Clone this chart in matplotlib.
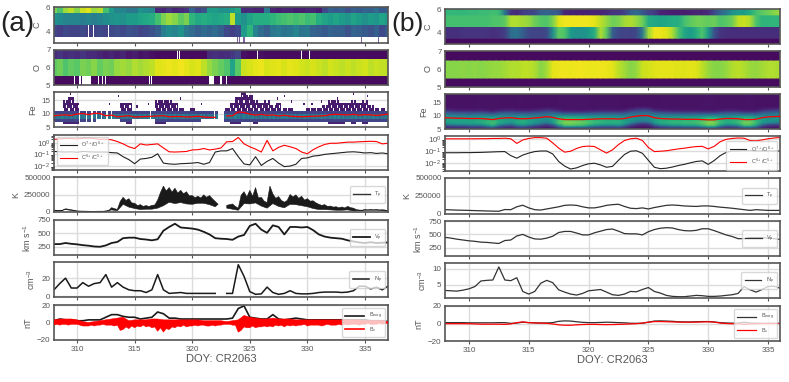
import numpy as np
import matplotlib
matplotlib.use('Agg')
import matplotlib.pyplot as plt

plt.rcParams['font.family'] = ['Liberation Sans', 'DejaVu Sans']
plt.rcParams['mathtext.fontset'] = 'custom'
plt.rcParams['mathtext.rm'] = 'Liberation Sans'
plt.rcParams['mathtext.default'] = 'regular'

nan = np.nan

# ---- panel (a): half-day samples, DOY 308 to 337 (59 values) ----
doy_a = np.arange(308, 337.5, 0.5)
# quarter-day samples for the two noisiest edges (117 values)
doy_q = np.arange(308, 337.25, 0.25)

C6_a = [.80,.72,.85,.90,.82,.92,.95,.85,.88,.70, .55,.45,.45,.40,.40,.50,.48,.45,.12,.10,
        .15,.10,.12,.15,.30,.20,.25,.55,.55,.50, .50,.55,.60,.12,.12,.10,.10,.40,.10,.08,
        .10,.10,.08,.08,.10,.10,.08,.22,.30,.28, .30,.25,.30,.28,.32,.30,.35,.28,.30]
C5_a = [.50,.48,.45,.45,.45,.42,.45,.42,.45,.48, .50,.52,.50,.55,.55,.58,.60,.62,.70,.80,
        .85,.82,.75,.80,.65,.60,.62,.60,.58,.60, .62,.90,.55,.50,.58,.62,.62,.62,.65,.68,
        .70,.72,.70,.72,.68,.70,.62,.58,.55,.58, .55,.52,.58,.55,.50,.55,.52,.58,.55]
C4_a = [.20,.18,.22,.20,.20,.22,.18,.20,.22,.20, .22,.24,.22,.25,.24,.20,.22,.25,.30,.42,
        .48,.45,.50,.40,.35,.30,.35,.32,.35,.30, .22,.18,.22,.55,.65,.45,.35,.30,.40,.42,
        .38,.40,.45,.38,.40,.32,.30,.28,.32,.30, .30,.25,.32,.30,.28,.25,.30,.22,.28]
C3_a = [nan] * 59
C4_gaps_a = [311.0, 311.4, 312.7]
C3_marks_a = [323.9, 324.1, 324.5, 334.7, 336.2]

O7_a = [.12,.15,.12,.14,.12,.15,.12,.12,.10,.08, .10,.08,.10,.06,.08,.05,.06,.04,.03,.03,
        .03,.03,.03,.03,.03,.03,.03,.12,.14,.12, .13,.16,.20,.04,.03,.03,.04,.03,.03,.03,
        .03,.03,.03,.03,.03,.03,.03,.03,.03,.03, .03,.03,.03,.03,.03,.03,.03,.03,.03]
O6_a = [.75,.78,.72,.76,.74,.80,.78,.82,.76,.80, .78,.84,.86,.84,.88,.86,.88,.90,.95,.96,
        .97,.96,.98,.96,.94,.95,.90,.84,.80,.76, .72,.58,.74,.92,.94,.96,.97,.94,.95,.96,
        .94,.96,.95,.93,.92,.94,.92,.90,.93,.92, .90,.92,.90,.92,.93,.90,.92,.91,.90]
O5_a = [.03] * 59
O7_gaps_a = [318.7, 318.9, 325.7, 329.5, 330.2]
O5_gaps_a = [309.8, 310.2, 310.3, 310.5, 310.6, 310.7, 310.8, 310.9, 311.0, 311.1, 311.2, 311.9, 312.2,
             312.5, 316.3, 316.5, 321.5, 321.6, 321.7, 321.8, 322.5, 323.0]

Fe_top_a = [11,11,15,16,14,11,11,11,11,11, 11,11,14,14,11,11,11,11,15,15,
            15,14,12,11,12,11,11,11,11,nan, 12,14,16,18,17,15,14,15,13,14,
            12,12,11,11,12,12,12,13,15,15, 14,14,15,14,15,13,12,12,11]
Fe_low_a = [7,7,6,6,6,7,7,7,8,8, 8,8,7,6,8,8,8,8,6,6,
            7,7,7,7,7,7,8,8,8,nan, 7,6,6,7,7,6,7,7,7,7,
            7,7,7,7,7,7,7,7,6,6, 6,7,6,7,6,7,7,7,7]
Fe_specks_a = [(309.4, 17), (312.8, 13), (313.6, 16), (315.2, 12), (316.2, 13), (319.0, 15), (320.8, 13),
               (324.9, 13), (326.2, 13), (327.4, 15), (328.6, 14), (329.7, 13), (331.2, 14), (331.8, 13),
               (330.4, 13), (335.2, 16), (334.0, 17), (332.6, 15), (328.0, 16)]
Fe_gaps_a = [310.2, 310.8, 311.3, 311.7, 312.1, 312.6, 313.0, 316.4, 321.9]
Fe_mean_a = [9.2,9.4,9.5,9.3,9.8,10.0,9.6,10.1,10.0,9.2, 9.4,8.8,9.0,9.2,8.7,8.8,8.9,9.0,9.1,9.2,
             8.8,8.9,8.9,8.7,8.8,9.0,8.7,8.6,8.6,nan, 9.1,9.2,10.6,10.4,9.8,9.4,9.7,9.3,9.5,9.1,
             9.4,9.0,8.9,8.8,8.9,9.0,9.1,9.2,9.6,9.7, 9.6,9.5,9.7,9.4,9.6,9.5,9.3,9.5,9.8]

ratio_c_a = [.28,.33,.36,.35,.32,.38,.40,.36,.28,.30, .25,.10,-.10,-.35,-.50,-.10,-.20,-.15,-.10,-.45,
             -.78,-.80,-.78,-.75,-.62,-.60,-.50,-.62,-.55,-.45, .08,.10,.45,-.10,-.35,-.55,-.80,.20,-.70,-.40,
             -.22,-.35,-.50,-.80,-.95,-.60,-.35,-.15,-.05,-.05, .00,.05,.05,.08,.10,.12,.10,-.10,-.05]
ratio_o_a = [-.75,-.78,-.80,-.78,-.82,-.75,-.78,-.80,-.80,-.80, -.85,-.88,-1.20,-1.45,-1.80,-1.40,-1.35,-1.25,-.95,-1.75,
             -1.82,-1.85,-1.80,-1.78,-1.75,-1.70,-1.85,-1.70,-.80,-.70, -.70,-.50,-1.20,-1.82,-1.90,-1.20,-1.95,-1.60,-1.35,-1.75,
             -2.05,-2.00,-1.85,-1.35,-1.30,-1.15,-1.10,-1.00,-.95,-.90, -.85,-.80,-.78,-.82,-.88,-.85,-.92,-.88,-.95]

# upper edge of the proton temperature band, thousand K
T_hi_q = [28,24,22,26, 46,40,32,24, 16,14,13,12, 11,10,10,11, 12,11,16,20,
          62,48,36,150, 210,165,190,130, 125,92,105,80, 92,78,95,100, 170,280,370,300,
          350,285,340,270, 310,260,290,230, 235,205,225,200, 245,210,235,190, 150,110,nan,nan,
          95,105,115,80, 55,240,290,215, 310,225,350,200, 210,155,135,370, 260,195,220,165,
          140,165,250,215, 245,195,225,170, 190,155,160,130, 110,95,105,80, 85,70,75,60,
          72,58,80,62, 55,35,28,25, 38,30,38,32, 38,30,32,28, 18]
T_lo_a = [18,14,35,22,9,8,6,6,7,8, 30,18,110,70,50,35,40,40,55,90,
          140,120,135,115,110,125,125,105,75,nan, 55,40,25,120,115,130,85,55,120,80,
          60,110,105,90,75,50,35,35,30,25, 25,30,15,18,25,25,25,20,10]
V_a = [300,300,320,305,295,280,270,255,250,275, 320,340,410,420,420,395,385,370,390,550,
       620,680,610,600,590,570,530,480,410,400, 395,380,440,470,640,680,570,510,650,620,
       480,620,620,610,620,560,480,440,420,410, 400,370,350,330,320,335,320,325,330]
N_a = [7,14,20,9,9,15,11,14,15,24, 10,15,10,7,6,6,4,7,24,7,
       3,3.5,4,3,3,3,3,3,3,nan, 3,3,35,22,5,2,2.5,10,4,2,
       3,6,3,2.5,2.5,3,4,4.5,4.5,4.5, 4,4.5,6,11,11,8,10,7,11]
B_a = [2,4,3,3,2,2,3,3,3,6, 9,9,7,6,6,4,5,6,12,10,
       5,5,4,4,4,4,4,4,4,4, 4,5,16,19,6,5,4,4,9,4,
       3,4,5,4,3,3,3,3,3,3, 3,3,3,3,3,2,2,2,1]
Bx_hi_a = [3,4,4,4,3,1,0,1,2,3, 4,5,6,2,3,3,3,4,4,3,
           3,3,3,3,3,3,2,2,2,2, 1,2,3,8,6,5,4,4,5,4,
           4,4,3,3,3,3,3,3,3,3, 3,3,3,3,2,2,2,2,1]
Bx_lo_q = [-3,-2,-3,-2, -2,-3,-2,-2, -2,-3,-4,-4, -4,-3,-4,-3, -3,-2,-3,-3,
           -3,-4,-3,-9, -8,-5,-7,-4, -6,-4,-5,-3, -5,-4,-6,-5, -10,-6,-11,-7,
           -8,-5,-6,-4, -5,-3,-5,-4, -4,-3,-4,-3, -3,-4,-4,-3, -4,-3,-3,-2,
           -2,-2,-3,-3, -11,-9,-5,-6, -6,-4,-6,-5, -5,-4,-5,-4, -5,-3,-4,-3,
           -5,-3,-4,-3, -4,-3,-3,-2, -4,-3,-3,-3, -3,-4,-3,-2, -3,-3,-3,-2,
           -3,-2,-3,-2, -2,-2,-3,-2, -2,-1,-2,-2, -2,-1,-2,-1, -1]

# ---- panel (b): half-day samples, DOY 308 to 336 (57 values) ----
doy_b = np.arange(308, 336.5, 0.5)

C6_b = [.66,.66,.66,.66,.67,.67,.68,.68,.70,.68, .40,.15,.12,.18,.20,.22,.30,.32,.30,.28,
        .10,.10,.09,.09,.10,.10,.10,.12,.15,.15, .20,.30,.35,.28,.20,.18,.10,.09,.08,.08,
        .08,.09,.10,.10,.12,.22,.32,.40,.50,.55, .55,.62,.70,.75,.78,.82,.85]
C5_b = [.70,.70,.70,.70,.70,.70,.70,.70,.72,.72, .75,.88,.88,.86,.84,.78,.74,.72,.80,.95,
        .98,.98,.98,.98,.98,.96,.90,.84,.78,.80, .86,.88,.84,.78,.62,.60,.58,.60,.62,.62,
        .70,.75,.78,.78,.76,.78,.72,.74,.78,.90, .92,.88,.72,.65,.65,.66,.65]
C4_b = [.14,.14,.14,.15,.15,.15,.15,.15,.14,.15, .18,.35,.38,.30,.22,.20,.20,.22,.48,.75,
        .72,.55,.50,.50,.55,.62,.88,.75,.30,.22, .20,.20,.22,.40,.85,.97,.97,.95,.88,.72,
        .60,.55,.62,.72,.55,.25,.15,.14,.13,.13, .13,.13,.13,.13,.13,.13,.13]
C3_b = [.03] * 57

O7_b = [.03] * 57
O6_b = [.82,.82,.82,.83,.82,.83,.82,.83,.84,.84, .86,.88,.88,.90,.90,.88,.82,.86,.96,.97,
        .98,.97,.98,.98,.97,.97,.98,.97,.96,.90, .86,.82,.84,.92,.93,.95,.96,.96,.96,.95,
        .95,.96,.95,.90,.85,.82,.82,.84,.88,.90, .88,.85,.84,.86,.88,.88,.87]
O5_b = [.03] * 57

Fe_mean_b = [9.2,9.1,9.0,9.0,8.9,8.9,8.9,8.7,8.5,8.9, 9.1,9.2,8.9,8.8,8.9,9.1,9.3,9.6,9.3,8.8,
             8.5,8.5,8.5,8.5,8.6,8.7,8.8,8.8,8.8,8.7, 8.9,9.4,9.8,10.0,9.9,9.2,8.9,8.8,8.7,8.7,
             8.6,8.6,8.6,8.5,8.4,8.4,8.7,8.9,8.9,8.8, 8.5,8.5,8.6,9.2,9.5,9.6,9.7]
Fe_peak_b = [.56,.56,.56,.56,.56,.58,.60,.64,.68,.60, .56,.52,.58,.62,.56,.52,.48,.46,.54,.70,
             .78,.78,.76,.74,.70,.66,.64,.62,.62,.62, .56,.50,.46,.44,.46,.54,.60,.62,.64,.64,
             .66,.66,.68,.72,.80,.78,.66,.60,.62,.66, .76,.76,.66,.54,.50,.50,.50]
Fe_offset = [-4, -3, -2, -1, 0, 1, 2, 3, 4]
Fe_shape = [.05, .30, .90, 1.0, .92, .75, .45, .14, .03]

ratio_c_b = [.05,.05,.05,.05,.05,.05,.06,.06,.08,.08, .10,.05,-.35,-.05,.08,.15,.15,.10,-.30,-.75,
             -1.10,-1.02,-.78,-.62,-.58,-.62,-.90,-1.18,-.90,-.45, -.10,.05,.10,-.10,-.70,-1.05,-1.02,-.98,-.90,-.82,
             -.76,-.68,-.62,-.60,-.82,-.60,-.20,.00,.08,.12, .10,-.10,-.12,-.05,.05,.12,.16]
ratio_o_b = [-1.15,-1.15,-1.15,-1.14,-1.14,-1.13,-1.12,-1.10,-1.08,-1.06, -1.05,-1.40,-1.62,-1.35,-1.18,-1.05,-1.00,-1.00,-1.25,-1.90,
             -2.30,-2.55,-2.45,-2.25,-2.10,-2.05,-2.20,-2.40,-2.32,-1.80, -1.30,-1.02,-.98,-1.20,-1.80,-2.40,-2.52,-2.48,-2.38,-2.25,
             -2.15,-2.02,-1.90,-1.85,-2.15,-1.82,-1.40,-1.12,-1.00,-1.00, -.98,-.98,-1.00,-1.00,-1.00,-1.00,-1.00]

T_b = [60,57,54,52,50,47,45,42,40,38, 62,60,100,122,85,60,55,70,85,100,
       120,125,120,100,85,85,100,120,130,135, 105,80,75,85,70,90,105,120,125,120,
       112,108,105,112,112,105,95,88,80,70, 60,50,60,55,50,50,50]
V_b = [445,430,410,395,380,370,355,350,340,330, 385,395,470,500,450,415,410,430,465,535,
       555,555,525,490,490,530,560,590,600,560, 515,510,510,490,550,590,615,625,620,590,
       570,565,575,605,605,570,530,490,460,420, 420,440,440,440,430,420,405]
N_b = [3.3,3.2,3.1,3.4,3.8,4.5,6.2,6.4,6.5,10.5, 6.5,6.3,7.2,3.0,2.2,3.0,5.5,6.4,5.7,3.5,
       2.8,2.2,1.9,2.4,3.2,3.4,3.6,2.8,2.0,1.8, 2.2,3.0,2.9,3.6,4.2,3.0,2.5,1.8,1.5,1.4,
       1.4,1.6,1.8,1.7,1.5,1.5,1.6,1.8,2.0,2.4, 4.5,3.5,2.8,3.6,4.5,4.6,4.0]
B_b = [1,1,1,1,.8,.8,.8,.8,.8,1, 1,.2,.5,1.5,1,.8,.6,.6,1,2.5,
       3,2.8,2,1.3,1,1,1.2,1.5,1.3,1, .8,.3,.2,.3,1.5,2.8,3,2.8,2.5,2,
       1.8,1.8,2,2.2,2.2,1.8,1,.6,.4,.4, 1.5,.5,.3,.2,.2,.2,.2]
Bx_b = [-.2,-.2,-.2,-.2,-.3,-.5,-.8,-.8,-.8,-.8, -1,-.5,1,1.8,1,.6,.4,.2,-.5,-1.5,
        -2,-2,-1.5,-1.2,-1,-1,-1.2,-1.3,-1.2,-1, -.8,-.5,-.2,.5,1.5,2.2,2.2,2,1.8,1.6,
        1.5,1.5,1.6,1.8,2,1.6,.5,0,-.3,-.2, -1,-.4,-.2,-.1,-.1,0,0]

GREY = '#555555'
FIG_W, FIG_H = 789, 382


def make_axes(x0, x1, y0, y1):
    ax = plt.gcf().add_axes([x0 / FIG_W, 1 - y1 / FIG_H, (x1 - x0) / FIG_W, (y1 - y0) / FIG_H])
    ax.set_axisbelow(True)
    ax.grid(True, color='#dcdcdc', lw=1.0)
    for s in ax.spines.values():
        s.set_color(GREY)
        s.set_linewidth(1.2)
    ax.tick_params(axis='both', labelsize=5.8, labelcolor=GREY, color=GREY, length=2.5, width=0.8, pad=2)
    ax.tick_params(axis='y', length=0, pad=2.5)
    return ax


def strip(ax, days, rows, edges, gaps=None, smooth=False):
    # rows go from the lowest bin to the top one
    if smooth:
        y = np.repeat(edges, 2)[1:-1]
        z = np.repeat(np.array(rows, dtype=float), 2, axis=0)
        ax.pcolormesh(days, y, z, cmap='viridis', vmin=0, vmax=1, shading='gouraud', zorder=2)
    else:
        z = np.repeat(np.array(rows, dtype=float), 5, axis=1)
        x = np.linspace(days[0] - 0.25, days[-1] + 0.25, z.shape[1] + 1)
        if gaps:
            for row, d_list in gaps.items():
                for d in d_list:
                    z[row, np.searchsorted(x, d) - 1] = nan
        ax.pcolormesh(x, edges, z, cmap='viridis', vmin=0, vmax=1, zorder=2)
    ax.grid(False)


def set_panel(ax, xlim, ylim, yticks, ylabel, labelpad=3):
    ax.set_xlim(xlim)
    ax.set_ylim(ylim)
    ax.set_xticks([310, 315, 320, 325, 330, 335])
    ax.set_yticks(yticks)
    ax.set_ylabel(ylabel, fontsize=6.5, color=GREY, labelpad=labelpad)
    ax.tick_params(axis='x', labelbottom=False)


def small_legend(ax, loc='center right', size=4, anchor=None, hl=3.0):
    lg = ax.legend(loc=loc, fontsize=size, frameon=True, framealpha=0.75, edgecolor='#cccccc',
                   borderpad=0.6, handlelength=hl, labelspacing=0.6, bbox_to_anchor=anchor,
                   borderaxespad=0.5)
    for t in lg.get_texts():
        t.set_color(GREY)
    lg.set_zorder(20)


def band(ax, x_top, top, x_bot, bot, color, gap=None, zorder=2):
    # filled range between an upper and a lower edge, split at a data gap
    x_top, top = np.array(x_top), np.array(top, dtype=float)
    x_bot, bot = np.array(x_bot), np.array(bot, dtype=float)
    if gap is None:
        parts = [(np.ones_like(x_top, bool), np.ones_like(x_bot, bool))]
    else:
        parts = [(x_top < gap, x_bot < gap), (x_top > gap, x_bot > gap)]
    for m_top, m_bot in parts:
        m_top = m_top & ~np.isnan(top)
        m_bot = m_bot & ~np.isnan(bot)
        ax.fill(np.r_[x_top[m_top], x_bot[m_bot][::-1]], np.r_[top[m_top], bot[m_bot][::-1]],
                color=color, lw=0.4, zorder=zorder)


def fe_matrix_a(days, tops, lows, specks, gaps):
    # occupancy of the Fe charge bins, 0.1 day wide columns
    levels = np.arange(5, 19)
    z = np.full((len(levels) - 1, len(days) * 5), nan)
    for j in range(len(days)):
        if np.isnan(tops[j]):
            continue
        for k in range(5):
            col = j * 5 + k
            for i, lev in enumerate(levels[:-1]):
                if not lows[j] <= lev < tops[j]:
                    continue
                if lev >= 11:
                    # upper bins are patchy in the picture
                    if (j * 7 + k * 3 + lev * 5) % 7 < 6:
                        z[i, col] = 0.07
                elif lev < 7:
                    z[i, col] = 0.10
                elif lev in (8, 9):
                    z[i, col] = 0.34 + 0.05 * ((j + k) % 3)
                else:
                    z[i, col] = 0.20
    x = np.linspace(days[0] - 0.25, days[-1] + 0.25, z.shape[1] + 1)
    for d, lev in specks:
        z[lev - 5, np.searchsorted(x, d) - 1] = 0.07
    for d in gaps:
        z[:, np.searchsorted(x, d) - 1] = nan
    return x, levels, z


fig = plt.figure(figsize=(FIG_W / 100, FIG_H / 100), dpi=100)
C_edges = [3, 3.5, 4.5, 5.5, 6]
O_edges = [5, 5.5, 6.5, 7]

# ---------- left column ----------
xl_a = (308, 337)
ax = make_axes(54, 388, 7, 43)
strip(ax, doy_a, [C3_a, C4_a, C5_a, C6_a], C_edges, gaps={1: C4_gaps_a})
x_mark = np.linspace(doy_a[0] - 0.25, doy_a[-1] + 0.25, 296)
z_mark = np.full((1, 295), nan)
for d in C3_marks_a:
    z_mark[0, np.searchsorted(x_mark, d) - 1] = 0.1
ax.pcolormesh(x_mark, [3, 3.5], z_mark, cmap='viridis', vmin=0, vmax=1, alpha=0.7, zorder=3)
set_panel(ax, xl_a, (3, 6), [4, 6], 'C')

ax = make_axes(54, 388, 50, 85)
strip(ax, doy_a, [O5_a, O6_a, O7_a], O_edges, gaps={0: O5_gaps_a, 2: O7_gaps_a})
set_panel(ax, xl_a, (5, 7), [5, 6, 7], 'O')

ax = make_axes(54, 388, 92, 127)
x_fe, y_fe, z_fe = fe_matrix_a(doy_a, Fe_top_a, Fe_low_a, Fe_specks_a, Fe_gaps_a)
ax.pcolormesh(x_fe, y_fe, z_fe, cmap='viridis', vmin=0, vmax=1, zorder=2)
ax.plot(doy_a, Fe_mean_a, color='red', lw=0.9, zorder=3)
set_panel(ax, xl_a, (5, 18), [5, 10, 15], 'Fe')

ax = make_axes(54, 388, 135, 170)
ax.plot(doy_a, 10.0 ** np.array(ratio_o_a), color='#222222', lw=0.8, label=r'O$^{7+}$/O$^{6+}$')
ax.plot(doy_a, 10.0 ** np.array(ratio_c_a), color='red', lw=0.8, label=r'C$^{6+}$/C$^{5+}$')
ax.set_yscale('log')
set_panel(ax, xl_a, (10 ** -2.34, 10 ** 0.66), [1e-2, 1e-1, 1e0], '')
ax.tick_params(axis='y', which='minor', length=2, color='#333333')
small_legend(ax, loc='lower left', anchor=(0.0, 0.06))

ax = make_axes(54, 388, 177, 212)
band(ax, doy_q, np.array(T_hi_q) * 1000, doy_a, np.array(T_lo_a) * 1000, '#1a1a1a', gap=322.5)
ax.plot([], [], color='#333333', lw=1.0, label=r'T$_p$')
set_panel(ax, xl_a, (0, 500000), [0, 250000, 500000], 'K')
small_legend(ax)

ax = make_axes(54, 388, 220, 255)
ax.plot(doy_a, V_a, color='#1a1a1a', lw=1.3, label=r'V$_p$')
set_panel(ax, xl_a, (96, 750), [250, 500, 750], r'km s$^{-1}$')
small_legend(ax)

ax = make_axes(54, 388, 262, 297)
ax.plot(doy_a, N_a, color='#1a1a1a', lw=1.1, label=r'N$_p$')
set_panel(ax, xl_a, (-1, 38), [0, 20], r'cm$^{-3}$')
small_legend(ax)

ax = make_axes(54, 388, 305, 340)
ax.plot(doy_a, B_a, color='#1a1a1a', lw=1.2, label=r'B$_{mag}$')
band(ax, doy_a, Bx_hi_a, doy_q, Bx_lo_q, 'red', zorder=3)
ax.plot([], [], color='red', lw=1.2, label=r'B$_x$')
set_panel(ax, xl_a, (-20, 20), [-20, 0, 20], 'nT')
small_legend(ax, hl=3.5)
ax.tick_params(axis='x', labelbottom=True)
ax.set_xlabel('DOY: CR2063', fontsize=8, color=GREY, labelpad=0.5)

# ---------- right column ----------
xl_b = (308, 336)
ax = make_axes(445, 780, 9, 44)
strip(ax, doy_b, [C3_b, C4_b, C5_b, C6_b], C_edges, smooth=True)
set_panel(ax, xl_b, (3, 6), [4, 6], 'C')

ax = make_axes(445, 780, 51, 87)
strip(ax, doy_b, [O5_b, O6_b, O7_b], O_edges, smooth=True)
set_panel(ax, xl_b, (5, 7), [5, 6, 7], 'O')

ax = make_axes(445, 780, 94, 129)
y_b = np.arange(5, 18.5, 0.5)
z_b = np.array([np.interp(y_b - Fe_mean_b[j], Fe_offset, np.array(Fe_shape) * Fe_peak_b[j] + 0.03)
                for j in range(len(doy_b))]).T
ax.pcolormesh(doy_b, y_b, z_b, cmap='viridis', vmin=0, vmax=1, shading='gouraud', zorder=2)
ax.plot(doy_b, Fe_mean_b, color='red', lw=0.9, zorder=3)
set_panel(ax, xl_b, (5, 18), [5, 10, 15], 'Fe')

ax = make_axes(445, 780, 136, 171)
ax.plot(doy_b, 10.0 ** np.array(ratio_o_b), color='#222222', lw=0.8, label=r'O$^{7+}$/O$^{6+}$')
ax.plot(doy_b, 10.0 ** np.array(ratio_c_b), color='red', lw=0.8, label=r'C$^{6+}$/C$^{5+}$')
ax.set_yscale('log')
set_panel(ax, xl_b, (10 ** -2.72, 10 ** 0.29), [1e-2, 1e-1, 1e0], '')
ax.tick_params(axis='y', which='minor', length=2, color='#333333')
small_legend(ax, anchor=(1.0, 0.45))

ax = make_axes(445, 780, 178, 214)
ax.plot(doy_b, np.array(T_b) * 1000, color='#333333', lw=0.9, label=r'T$_p$')
set_panel(ax, xl_b, (0, 500000), [0, 250000, 500000], 'K')
small_legend(ax)

ax = make_axes(445, 780, 221, 256)
ax.plot(doy_b, V_b, color='#333333', lw=0.9, label=r'V$_p$')
set_panel(ax, xl_b, (96, 750), [250, 500, 750], r'km s$^{-1}$')
small_legend(ax)

ax = make_axes(445, 780, 263, 298)
ax.plot(doy_b, N_b, color='#333333', lw=0.9, label=r'N$_p$')
set_panel(ax, xl_b, (1, 11.7), [5, 10], r'cm$^{-3}$')
small_legend(ax)

ax = make_axes(445, 780, 306, 341)
ax.plot(doy_b, B_b, color='#333333', lw=0.9, label=r'B$_{mag}$')
ax.plot(doy_b, Bx_b, color='red', lw=0.9, label=r'B$_x$')
set_panel(ax, xl_b, (-20, 20), [-20, 0, 20], 'nT')
small_legend(ax, hl=3.5)
ax.tick_params(axis='x', labelbottom=True)
ax.set_xlabel('DOY: CR2063', fontsize=8, color=GREY, labelpad=0.5)

fig.text(0 / FIG_W, 1 - 31 / FIG_H, '(a)', fontsize=20, color='#222222')
fig.text(391 / FIG_W, 1 - 31 / FIG_H, '(b)', fontsize=19, color='#222222')

fig.savefig('out.png', dpi=100)
